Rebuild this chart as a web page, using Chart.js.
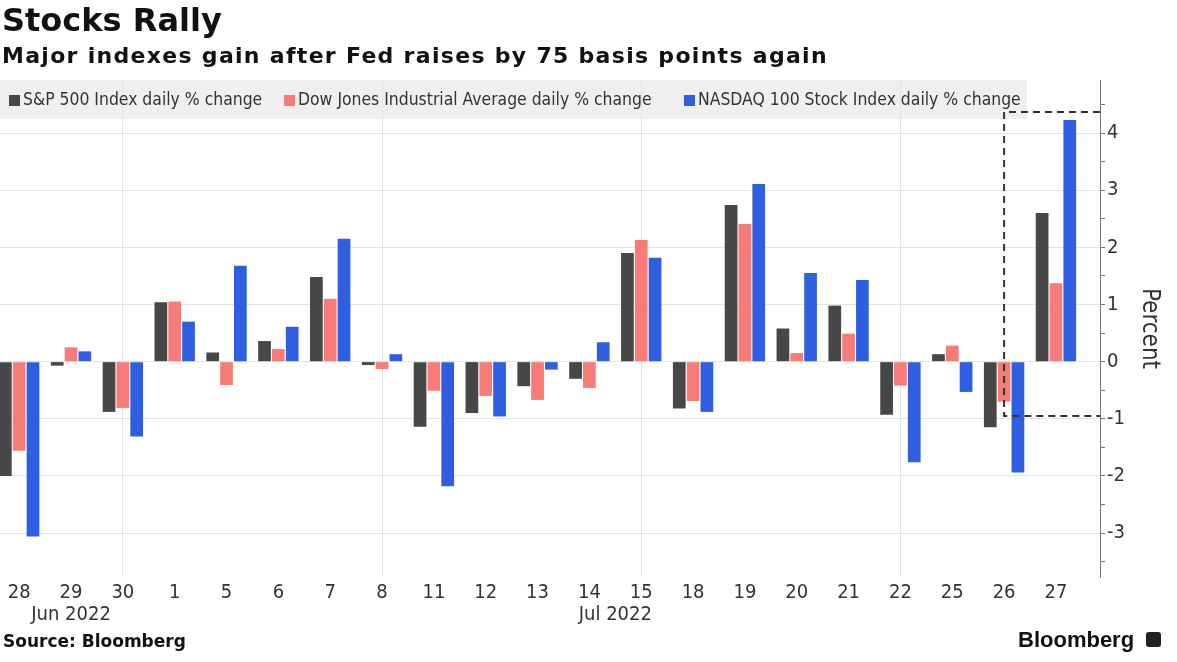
<!DOCTYPE html>
<html><head><meta charset="utf-8">
<script src="https://cdn.jsdelivr.net/npm/chart.js@4/dist/chart.umd.min.js"></script>
<style>
html,body{margin:0;padding:0;background:#fff;}
#wrap{position:relative;width:1177px;height:662px;overflow:hidden;background:#fff;}
#band{position:absolute;left:0;top:80px;width:1027px;height:39px;background:#efefef;z-index:0;}
#c{position:absolute;left:0;top:0;z-index:1;}
.txt{position:absolute;z-index:2;white-space:nowrap;color:#111;}
#title{left:2px;top:1px;font:bold 32px "DejaVu Sans";}
#subtitle{left:2px;top:43px;font:bold 22px "DejaVu Sans";letter-spacing:1.3px;}
.leg{position:absolute;z-index:2;top:89px;height:22px;line-height:22px;font:17.4px "DejaVu Sans Condensed","DejaVu Sans";color:#333;white-space:nowrap;}
.leg i{display:inline-block;width:11px;height:11px;margin-right:3px;vertical-align:-1px;}
#source{left:3px;top:631px;font:bold 17px "DejaVu Sans";}
#brand{left:1018px;top:627px;font:bold 22px "Liberation Sans",Arial;color:#111;}
#icon{position:absolute;z-index:2;left:1146px;top:632px;width:15px;height:15px;background:#222;border-radius:3px;}
</style></head><body>
<div id="wrap">
  <div id="band"></div>
  <canvas id="c" width="1177" height="662"></canvas>
  <div class="txt" id="title">Stocks Rally</div>
  <div class="txt" id="subtitle">Major indexes gain after Fed raises by 75 basis points again</div>
  <div id="legend"></div>
  <div class="txt" id="source">Source: Bloomberg</div>
  <div class="txt" id="brand">Bloomberg</div>
  <div id="icon"></div>
</div>
<script>
// ---- data ----
const dayLabels = ['28','29','30','1','5','6','7','8','11','12','13','14','15','18','19','20','21','22','25','26','27'];
const monthLabels = ['Jun 2022','Jul 2022'];
const monthFirstIdx = [0, 3];
const monthLastIdx = [2, 20];
const seriesNames = ['S&P 500 Index daily % change','Dow Jones Industrial Average daily % change','NASDAQ 100 Stock Index daily % change'];
const sp500 = [-2.00,-0.07,-0.88,1.04,0.16,0.36,1.48,-0.06,-1.14,-0.90,-0.43,-0.30,1.90,-0.82,2.74,0.58,0.98,-0.93,0.13,-1.15,2.60];
const dow   = [-1.56,0.25,-0.81,1.05,-0.41,0.22,1.10,-0.13,-0.51,-0.60,-0.67,-0.46,2.13,-0.69,2.41,0.15,0.49,-0.42,0.28,-0.70,1.37];
const nasdaq= [-3.06,0.18,-1.31,0.70,1.68,0.61,2.15,0.13,-2.18,-0.96,-0.14,0.34,1.82,-0.88,3.11,1.55,1.43,-1.76,-0.53,-1.94,4.23];
const yTickValues = [-3,-2,-1,0,1,2,3,4];
const gridDayIdx = [2,7,12,17];
const highlightStartIdx = 19;   // box starts at "26"
const highlightTop = 4.37;
const highlightBottom = -0.95;

// ---- styles ----
const colors = ['#474747','#f77c78','#2f5fe0'];
const FONT = '"DejaVu Sans Condensed","DejaVu Sans"';

// legend (real text)
const legLeft = [9, 284, 684];
const legend = document.getElementById('legend');
seriesNames.forEach((n,i)=>{
  const d = document.createElement('div');
  d.className='leg'; d.style.left = legLeft[i]+'px';
  d.innerHTML = '<i style="background:'+colors[i]+'"></i>';
  d.appendChild(document.createTextNode(n));
  legend.appendChild(d);
});

const toXY = arr => arr.map((v,i)=>({x:i,y:v}));

const monthPlugin = {
  id:'months',
  afterDraw(chart){
    const xs = chart.scales.x, ctx = chart.ctx;
    ctx.save();
    ctx.font = '20px ' + FONT;
    ctx.fillStyle = '#333';
    ctx.textAlign = 'center';
    ctx.textBaseline = 'middle';
    monthLabels.forEach((m,i)=>{
      const xc = xs.getPixelForValue((monthFirstIdx[i]+monthLastIdx[i])/2);
      ctx.fillText(m, xc, 615);
    });
    ctx.restore();
  }
};
const boxPlugin = {
  id:'hbox',
  afterDatasetsDraw(chart){
    const xs = chart.scales.x, ys = chart.scales.y, ctx = chart.ctx;
    const x0 = xs.getPixelForValue(highlightStartIdx), x1 = chart.chartArea.right;
    const yT = ys.getPixelForValue(highlightTop), yB = ys.getPixelForValue(highlightBottom);
    ctx.save();
    ctx.strokeStyle = '#333'; ctx.lineWidth = 2; ctx.setLineDash([7,5]);
    ctx.beginPath();
    ctx.moveTo(x1, yT); ctx.lineTo(x0, yT); ctx.lineTo(x0, yB); ctx.lineTo(x1, yB);
    ctx.stroke();
    ctx.restore();
  }
};

new Chart(document.getElementById('c'), {
  type:'bar',
  data:{
    datasets:[
      {label:seriesNames[0], data:toXY(sp500), backgroundColor:colors[0]},
      {label:seriesNames[1], data:toXY(dow), backgroundColor:colors[1]},
      {label:seriesNames[2], data:toXY(nasdaq), backgroundColor:colors[2]}
    ]
  },
  options:{
    responsive:false, animation:false, devicePixelRatio:1,
    layout:{padding:{top:80,left:0,right:0,bottom:0}},
    datasets:{bar:{barPercentage:0.92,categoryPercentage:0.8,borderWidth:0}},
    plugins:{legend:{display:false}, tooltip:{enabled:false}},
    scales:{
      x:{
        type:'linear', min:-0.37, max:20.85, offset:false,
        ticks:{stepSize:1, includeBounds:false, autoSkip:false, maxRotation:0, padding:4,
               font:{family:FONT,size:20}, color:'#333',
               callback:v => Number.isInteger(v) && dayLabels[v] !== undefined ? dayLabels[v] : ''},
        grid:{offset:false, drawTicks:false, lineWidth:1, color:c => (c.tick && gridDayIdx.includes(c.tick.value)) ? '#e3e3e3' : 'rgba(0,0,0,0)'},
        border:{display:false},
        afterFit(s){ s.height = 85; }
      },
      y:{
        position:'right', min:-3.77, max:4.93,
        ticks:{stepSize:0.5, includeBounds:false, padding:2, font:{family:FONT,size:20}, color:'#333',
               callback:v => yTickValues.includes(v) ? String(v) : ''},
        grid:{drawTicks:true, tickLength:5, tickColor:'#777', lineWidth:1,
              color:c => (c.tick && yTickValues.includes(c.tick.value)) ? '#e3e3e3' : 'rgba(0,0,0,0)'},
        border:{display:true, color:'#777', width:1},
        title:{display:true, text:'Percent', font:{family:FONT,size:24}, color:'#333', padding:{top:13,bottom:0}},
        afterFit(s){ s.width = 77; }
      }
    }
  },
  plugins:[monthPlugin, boxPlugin]
});
</script>
</body></html>
